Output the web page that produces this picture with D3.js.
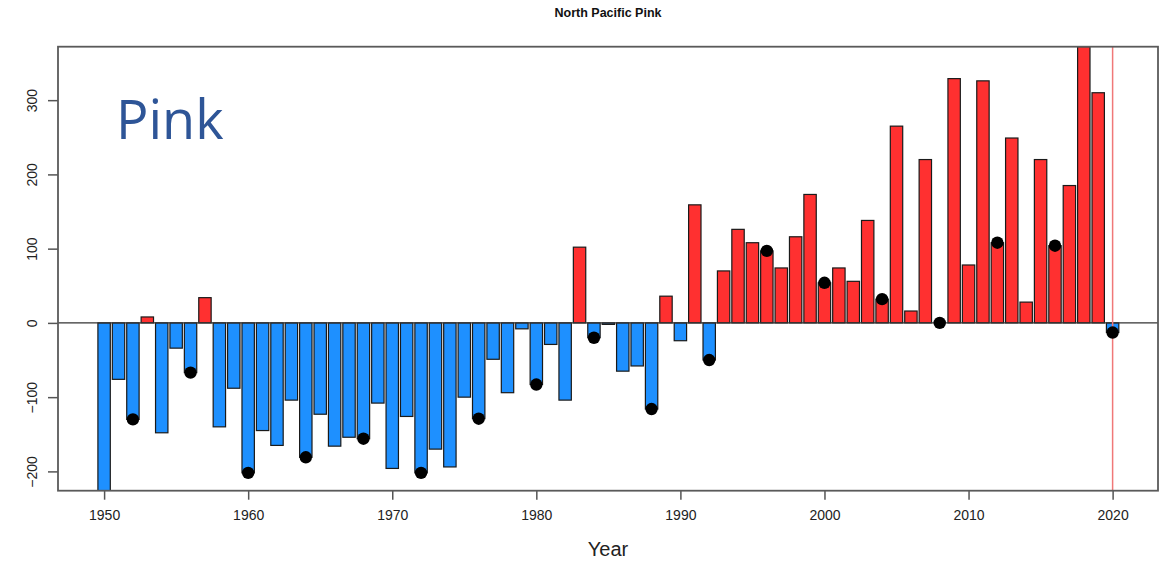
<!DOCTYPE html>
<html>
<head>
<meta charset="utf-8">
<script src="https://cdn.jsdelivr.net/npm/d3@7"></script>
<style>
  html, body { margin: 0; padding: 0; background: #fff; }
  svg { display: block; font-family: "Liberation Sans", Arial, sans-serif; }
</style>
</head>
<body>
<svg id="chart" width="1160" height="564"></svg>
<script>
// North Pacific pink salmon anomalies by year
const years = [1950,1951,1952,1953,1954,1955,1956,1957,1958,1959,
               1960,1961,1962,1963,1964,1965,1966,1967,1968,1969,
               1970,1971,1972,1973,1974,1975,1976,1977,1978,1979,
               1980,1981,1982,1983,1984,1985,1986,1987,1988,1989,
               1990,1991,1992,1993,1994,1995,1996,1997,1998,1999,
               2000,2001,2002,2003,2004,2005,2006,2007,2008,2009,
               2010,2011,2012,2013,2014,2015,2016,2017,2018,2019,
               2020];
const values = [-226,-76,-130,8,-148,-34,-67,34,-140,-88,
                -202,-145,-165,-104,-181,-123,-166,-154,-156,-108,
                -196,-126,-202,-170,-194,-100,-129,-49,-94,-8,
                -83,-29,-104,102,-20,-2,-65,-58,-116,36,
                -24,159,-50,70,126,108,97,74,116,173,
                54,74,56,138,32,265,16,220,0,329,
                78,326,108,249,28,220,104,185,372,310,
                -13];
// Marked years (every fourth year)
const dotYears  = [1952,1956,1960,1964,1968,1972,1976,1980,1984,1988,1992,1996,2000,2004,2008,2012,2016,2020];
const dotValues = [-130,-67,-202,-181,-156,-202,-129,-83,-20,-116,-50,97,54,32,0,108,104,-13];

const xTicks = [1950,1960,1970,1980,1990,2000,2010,2020];
const yTicks = [-200,-100,0,100,200,300];
const refYear = 2020;

const svg = d3.select("#chart");
const L = 58, R = 1158, T = 46.7, B = 490.7;

const x = d3.scaleLinear().domain([1946.8, 2023.15]).range([L, R]);
const y = d3.scaleLinear().domain([-226, 372]).range([B, T]);
const barW = (x(1951) - x(1950)) * 0.86;

const data = years.map((yr, i) => ({ yr, v: values[i] }));

// clip to plot region
svg.append("defs").append("clipPath").attr("id", "plotClip")
  .append("rect").attr("x", L).attr("y", T).attr("width", R - L).attr("height", B - T);

const plot = svg.append("g").attr("clip-path", "url(#plotClip)");

plot.selectAll("rect.bar").data(data.filter(d => d.v !== 0)).join("rect")
  .attr("class", "bar")
  .attr("x", d => x(d.yr) - barW / 2)
  .attr("y", d => Math.min(y(d.v), y(0)))
  .attr("width", barW)
  .attr("height", d => Math.abs(y(d.v) - y(0)))
  .attr("fill", d => d.v > 0 ? "#FF3030" : "#1E90FF")
  .attr("stroke", "#1a1a1a")
  .attr("stroke-width", 1.2);

// zero line
plot.append("line")
  .attr("x1", L).attr("x2", R).attr("y1", y(0)).attr("y2", y(0))
  .attr("stroke", "#333").attr("stroke-width", 1.3);

// reference year line
plot.append("line")
  .attr("x1", x(refYear)).attr("x2", x(refYear)).attr("y1", T).attr("y2", B)
  .attr("stroke", "#F07878").attr("stroke-width", 1.5);

// marker points
plot.selectAll("circle.dot").data(dotYears.map((yr, i) => ({ yr, v: dotValues[i] }))).join("circle")
  .attr("class", "dot")
  .attr("cx", d => x(d.yr))
  .attr("cy", d => y(d.v))
  .attr("r", 6.2)
  .attr("fill", "#000");

// axes
const axisColor = "#555";
const xAxis = svg.append("g").attr("transform", `translate(0,${B})`)
  .call(d3.axisBottom(x).tickValues(xTicks).tickFormat(d3.format("d")).tickSize(9).tickPadding(10));
xAxis.select(".domain").remove();
xAxis.selectAll(".tick line").attr("stroke", axisColor).attr("stroke-width", 1.5);
xAxis.selectAll(".tick text").attr("font-size", 14).attr("fill", "#222")
  .attr("font-family", "Liberation Sans, Arial, sans-serif");

const yAxis = svg.append("g").attr("transform", `translate(${L},0)`)
  .call(d3.axisLeft(y).tickValues(yTicks).tickSize(10).tickPadding(0));
yAxis.select(".domain").remove();
yAxis.selectAll(".tick line").attr("stroke", axisColor).attr("stroke-width", 1.5);
yAxis.selectAll(".tick text")
  .attr("font-size", 14).attr("fill", "#222")
  .attr("font-family", "Liberation Sans, Arial, sans-serif")
  .attr("x", null).attr("dy", null)
  .attr("text-anchor", "middle")
  .attr("transform", "translate(-21,0) rotate(-90)");

// plot frame
svg.append("rect")
  .attr("x", L).attr("y", T).attr("width", R - L).attr("height", B - T)
  .attr("fill", "none").attr("stroke", "#5a5a5a").attr("stroke-width", 1.8);

// title
svg.append("text")
  .attr("x", (L + R) / 2).attr("y", 17)
  .attr("text-anchor", "middle")
  .attr("font-size", 12.5).attr("font-weight", "bold").attr("fill", "#111")
  .text("North Pacific Pink");

// x axis title
svg.append("text")
  .attr("x", (L + R) / 2).attr("y", 556)
  .attr("text-anchor", "middle")
  .attr("font-size", 20).attr("fill", "#222")
  .text("Year");

// species label
svg.append("text")
  .attr("x", 116).attr("y", 139)
  .attr("font-family", "'Open Sans', 'Noto Sans', sans-serif")
  .attr("font-size", 54).attr("fill", "#2E5597")
  .text("Pink");
</script>
</body>
</html>
